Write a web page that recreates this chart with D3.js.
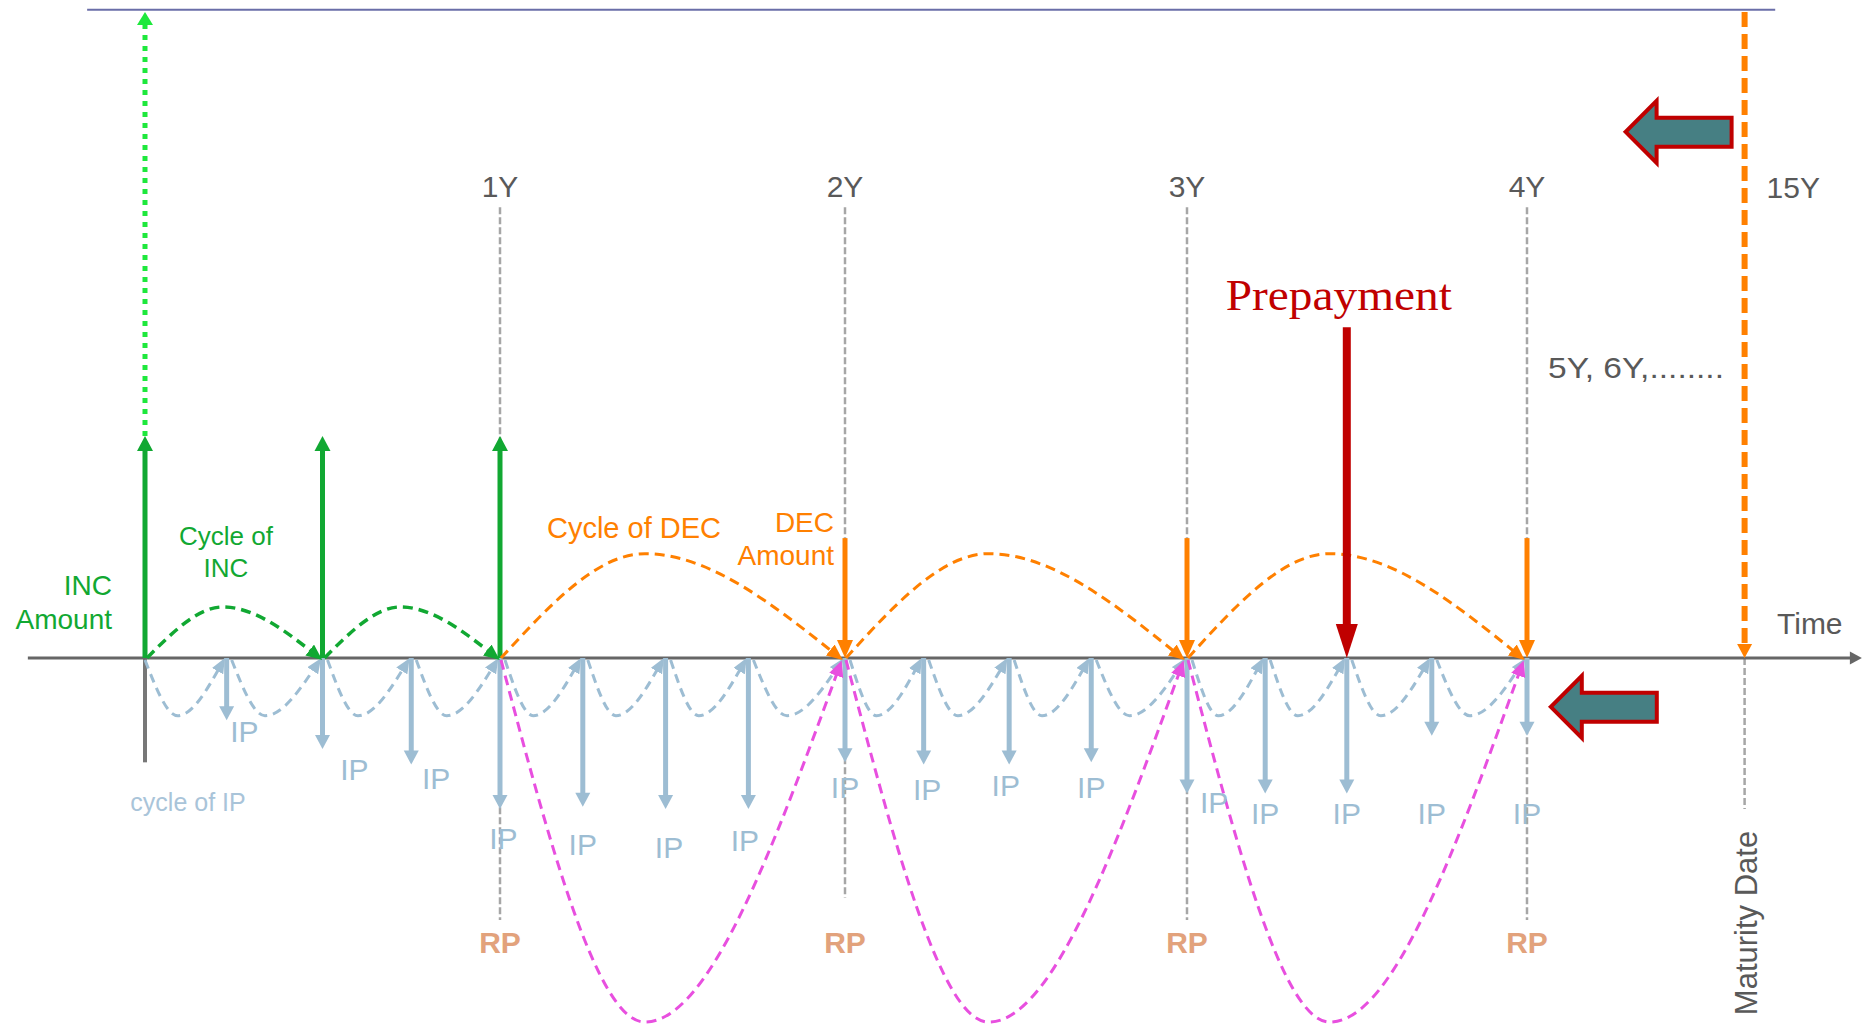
<!DOCTYPE html>
<html>
<head>
<meta charset="utf-8">
<script src="https://cdn.jsdelivr.net/npm/d3@7"></script>
<style>
  html, body { margin: 0; padding: 0; background: #fff; }
  svg { display: block; font-family: "Liberation Sans", Arial, sans-serif; }
</style>
</head>
<body>
<div id="chart"></div>
<script>
const W = 1863, H = 1027;

// time in years, amounts in schematic units (INC amount = 100, outflows negative)
const yearTicks = [1, 2, 3, 4];
const yearLabels = ["1Y", "2Y", "3Y", "4Y"];
const yearLineTop = 203;
const yearLineBottoms = [-118, -108, -118, -118];

const incTimes = [0, 0.5, 1];
const incAmount = 100;
const incReach = 291;

const decTimes = [2, 3, 4];
const decAmount = 54;

const prepayTime = 3.47;
const prepayAmount = 149;

const maturityTime = 4.64;
const maturityTop = 291;
const maturityBottom = -68;

const ipStart = 0;
const ipStartDepth = -47;
const ipTimes   = [0.23, 0.5, 0.75, 1, 1.24, 1.48, 1.72, 2, 2.23, 2.48, 2.72, 3, 3.23, 3.47, 3.72, 4];
const ipAmounts = [-28, -41, -48, -68, -67, -68, -68, -47, -48, -48, -47, -61, -61, -61, -35, -35];
const ipLabelTimes  = [0.28, 0.59, 0.82, 1.01, 1.24, 1.49, 1.71, 2.0, 2.24, 2.47, 2.72, 3.08, 3.23, 3.47, 3.72, 4.0];
const ipLabelLevels = [-33, -50, -54, -81, -84, -85, -82, -58, -59, -57, -58, -65, -70, -70, -70, -70];

const rpTimes = [1, 2, 3, 4];

const incCycleHeight = 23;
const decCycleHeight = 47;
const ipCycleDepth = -26;
const rpCycleDepth = -164;

const topLineSpan = [-0.163, 4.73];
const topLineLevel = 292;
const axisSpan = [-0.33, 4.985];
const bigArrows = [{t: 4.29, v: 237}, {t: 4.07, v: -22}];

const C = {
  green: "#11a832", brightGreen: "#1ee83c", orange: "#ff8000", blue: "#9dbdd3",
  pink: "#e84fdf", red: "#c00000", teal: "#467f83", gray: "#666", grid: "#a6a6a6",
  text: "#595959", rp: "#e2a27c", ipText: "#a9c4d9"
};

const x = d3.scaleLinear().domain([0, 1, 2, 3, 4]).range([145, 500, 845, 1187, 1527]);
const y = d3.scaleLinear().domain([0, 100]).range([658, 436]);

const svg = d3.select("#chart").append("svg")
  .attr("width", W).attr("height", H);
const defs = svg.append("defs");

function addMarker(id, color, len, wid) {
  defs.append("marker")
    .attr("id", id)
    .attr("viewBox", "0 0 10 10")
    .attr("refX", 7).attr("refY", 5)
    .attr("markerUnits", "userSpaceOnUse")
    .attr("markerWidth", len).attr("markerHeight", wid)
    .attr("preserveAspectRatio", "none")
    .attr("orient", "auto")
    .append("path").attr("d", "M0,0L10,5L0,10Z").attr("fill", color);
}
addMarker("mGreen", C.green, 16, 14);
addMarker("mOrange", C.orange, 16, 14);
addMarker("mBlue", C.blue, 15, 13);
addMarker("mPink", C.pink, 16, 15);

// straight arrow: line stops at head base, triangle at the tip
function arrow(g, x1, y1, x2, y2, o) {
  const dx = x2 - x1, dy = y2 - y1, L = Math.hypot(dx, dy);
  const ux = dx / L, uy = dy / L;
  const bx = x2 - ux * o.head, by = y2 - uy * o.head;
  g.append("line")
    .attr("x1", x1).attr("y1", y1).attr("x2", bx + ux).attr("y2", by + uy)
    .attr("stroke", o.color).attr("stroke-width", o.width)
    .attr("stroke-dasharray", o.dash || null);
  const hw = o.headW / 2;
  g.append("path")
    .attr("d", `M${x2},${y2}L${bx - uy * hw},${by + ux * hw}L${bx + uy * hw},${by - ux * hw}Z`)
    .attr("fill", o.color);
}

const cycleLine = d3.line().curve(d3.curveMonotoneX);
function cycle(g, t0, t1, amp, frac, o) {
  const pts = [
    [x(t0) + (o.sx || 0), y(0) + (o.sy || 0)],
    [x(t0 + frac * (t1 - t0)), y(amp)],
    [x(t1) + (o.ex || 0), y(0) + (o.ey || 0)]
  ];
  g.append("path")
    .attr("d", cycleLine(pts))
    .attr("fill", "none")
    .attr("stroke", o.color).attr("stroke-width", o.width)
    .attr("stroke-dasharray", o.dash)
    .attr("marker-end", `url(#${o.marker})`);
}

const g = svg.append("g");

// top frame line
g.append("line")
  .attr("x1", x(topLineSpan[0])).attr("x2", x(topLineSpan[1]))
  .attr("y1", y(topLineLevel)).attr("y2", y(topLineLevel))
  .attr("stroke", "#6a6ea8").attr("stroke-width", 2);

// year guide lines
g.selectAll(".yl").data(yearTicks).join("line")
  .attr("x1", d => x(d)).attr("x2", d => x(d))
  .attr("y1", y(yearLineTop)).attr("y2", (d, i) => y(yearLineBottoms[i]))
  .attr("stroke", C.grid).attr("stroke-width", 2.5).attr("stroke-dasharray", "7,3");

// maturity guide below axis
g.append("line")
  .attr("x1", x(maturityTime)).attr("x2", x(maturityTime))
  .attr("y1", y(0)).attr("y2", y(maturityBottom))
  .attr("stroke", C.grid).attr("stroke-width", 2.5).attr("stroke-dasharray", "7,3");

// start tick of IP cycle
g.append("line")
  .attr("x1", x(ipStart)).attr("x2", x(ipStart))
  .attr("y1", y(0)).attr("y2", y(ipStartDepth))
  .attr("stroke", "#777").attr("stroke-width", 4);

// time axis
arrow(g, x(axisSpan[0]), y(0), x(axisSpan[1]), y(0), {color: C.gray, width: 3, head: 12, headW: 13});

// IP arrows
ipTimes.forEach((t, i) => {
  arrow(g, x(t), y(0), x(t), y(ipAmounts[i]), {color: C.blue, width: 5, head: 14, headW: 15});
});

// IP cycles
const ipCycle = [ipStart, ...ipTimes];
for (let i = 0; i < ipCycle.length - 1; i++) {
  cycle(g, ipCycle[i], ipCycle[i + 1], ipCycleDepth, 0.4,
    {color: C.blue, width: 3, dash: "9,6", marker: "mBlue", sx: i ? 5 : 0, sy: 2, ex: -4, ey: 4});
}

// INC extension (dotted) and INC arrows
arrow(g, x(incTimes[0]), y(incAmount), x(incTimes[0]), y(incReach),
  {color: C.brightGreen, width: 5, head: 13, headW: 16, dash: "5,6"});
incTimes.forEach(t => {
  arrow(g, x(t), y(0), x(t), y(incAmount), {color: C.green, width: 5, head: 15, headW: 16});
});

// INC cycles
for (let i = 0; i < incTimes.length - 1; i++) {
  cycle(g, incTimes[i], incTimes[i + 1], incCycleHeight, 0.44,
    {color: C.green, width: 3.5, dash: "10,6", marker: "mGreen", sx: 2, ex: -4, ey: -1});
}

// DEC cycles
const decCycle = [incTimes[incTimes.length - 1], ...decTimes];
for (let i = 0; i < decCycle.length - 1; i++) {
  cycle(g, decCycle[i], decCycle[i + 1], decCycleHeight, 0.42,
    {color: C.orange, width: 3, dash: "10,6", marker: "mOrange", sx: 1, ex: -6, ey: -1});
}

// DEC arrows
decTimes.forEach(t => {
  arrow(g, x(t), y(decAmount), x(t), y(0), {color: C.orange, width: 5, head: 18, headW: 16});
});

// maturity repayment (dashed)
arrow(g, x(maturityTime), y(maturityTop), x(maturityTime), y(0),
  {color: C.orange, width: 6, head: 14, headW: 15, dash: "15,7"});

// RP cycles
for (let i = 0; i < rpTimes.length - 1; i++) {
  cycle(g, rpTimes[i], rpTimes[i + 1], rpCycleDepth, 0.42,
    {color: C.pink, width: 3, dash: "10,6", marker: "mPink", sx: 1, sy: 2, ex: -5, ey: 7});
}

// prepayment
arrow(g, x(prepayTime), y(prepayAmount), x(prepayTime), y(0), {color: C.red, width: 8, head: 34, headW: 22});

// block arrows
bigArrows.forEach(b => {
  const tx = x(b.t), ty = y(b.v);
  const p = d3.path();
  p.moveTo(tx, ty);
  p.lineTo(tx + 31, ty - 31);
  p.lineTo(tx + 31, ty - 14);
  p.lineTo(tx + 106, ty - 14);
  p.lineTo(tx + 106, ty + 15);
  p.lineTo(tx + 31, ty + 15);
  p.lineTo(tx + 31, ty + 31);
  p.closePath();
  g.append("path").attr("d", p.toString())
    .attr("fill", C.teal).attr("stroke", C.red).attr("stroke-width", 4)
    .attr("stroke-linejoin", "miter");
});

// texts
function text(str, tx, ty, o) {
  const t = g.append("text")
    .attr("x", tx).attr("y", ty)
    .attr("font-size", o.size).attr("fill", o.color)
    .attr("text-anchor", o.anchor || "middle")
    .text(str);
  if (o.weight) t.attr("font-weight", o.weight);
  if (o.family) t.attr("font-family", o.family);
  if (o.len) t.attr("textLength", o.len).attr("lengthAdjust", "spacingAndGlyphs");
  if (o.transform) t.attr("transform", o.transform);
  return t;
}

yearTicks.forEach((t, i) => text(yearLabels[i], x(t), 197, {size: 30, color: C.text}));
text("15Y", x(maturityTime) + 22, 198, {size: 30, color: C.text, anchor: "start"});
text("5Y, 6Y,........", 1548, 378, {size: 30, color: C.text, anchor: "start", len: 176});
text("Prepayment", x(prepayTime) - 8, 310,
  {size: 44, color: C.red, family: "'Liberation Serif', 'Times New Roman', serif", len: 226});
text("Time", 1777, 634, {size: 30, color: C.text, anchor: "start"});
g.append("text")
  .attr("transform", `translate(${x(maturityTime) + 12},923) rotate(-90)`)
  .attr("text-anchor", "middle").attr("font-size", 31).attr("fill", C.text)
  .text("Maturity Date");

text("INC", 112, 595, {size: 28, color: C.green, anchor: "end"});
text("Amount", 112, 629, {size: 28, color: C.green, anchor: "end"});
text("Cycle of", 226, 545, {size: 26, color: C.green});
text("INC", 226, 577, {size: 26, color: C.green});
text("Cycle of DEC", 634, 538, {size: 29, color: C.orange});
text("DEC", 834, 532, {size: 28, color: C.orange, anchor: "end"});
text("Amount", 834, 565, {size: 28, color: C.orange, anchor: "end"});

ipLabelTimes.forEach((t, i) => {
  text("IP", x(t), y(ipLabelLevels[i]) + 11, {size: 30, color: C.blue});
});
text("cycle of IP", 188, 811, {size: 25, color: C.ipText});

rpTimes.forEach(t => text("RP", x(t), 953, {size: 30, color: C.rp, weight: "bold"}));
</script>
</body>
</html>
